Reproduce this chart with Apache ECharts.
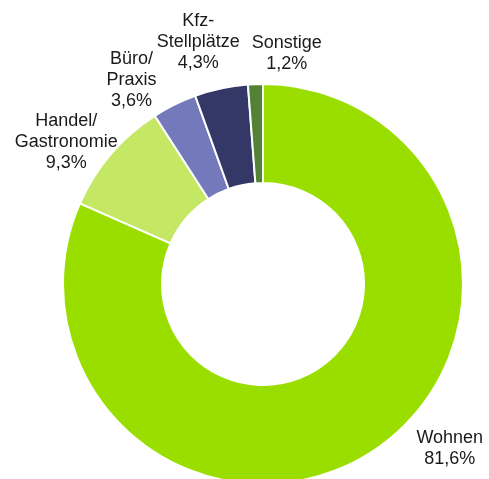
<!DOCTYPE html>
<html>
<head>
<meta charset="utf-8">
<script src="https://cdn.jsdelivr.net/npm/echarts@6/dist/echarts.min.js"></script>
<style>
html,body{margin:0;padding:0;background:#fff;}
#c{width:489px;height:479px;}
</style>
</head>
<body>
<div id="c"></div>
<script>
// Data
const categories = ['Wohnen', 'Handel/\nGastronomie', 'Büro/\nPraxis', 'Kfz-\nStellplätze', 'Sonstige'];
const shares = [81.6, 9.3, 3.6, 4.3, 1.2];

// Styles
const colors = ['#9ade00', '#c4e864', '#7479bb', '#333867', '#548235'];
const labelNudges = [[54, -39], [-12, 16], [-24, 14], [-14, -4], [33, 12]];

const chart = echarts.init(document.getElementById('c'), null, {renderer: 'canvas'});
const data = categories.map((name, i) => ({
  name: name,
  value: shares[i],
  itemStyle: {color: colors[i]},
  label: {offset: labelNudges[i]}
}));

chart.setOption({
  animation: false,
  backgroundColor: '#ffffff',
  series: [{
    type: 'pie',
    center: [263, 284],
    radius: [101, 200],
    startAngle: 90,
    clockwise: true,
    avoidLabelOverlap: false,
    itemStyle: {borderColor: '#ffffff', borderWidth: 2},
    label: {
      show: true,
      position: 'outside',
      fontFamily: '"Liberation Sans", Arial, sans-serif',
      fontSize: 18,
      lineHeight: 21,
      color: '#1a1a1a',
      distanceToLabelLine: 0,
      formatter: function (p) {
        return p.name + '\n' + p.value.toFixed(1).replace('.', ',') + '%';
      }
    },
    labelLine: {show: false, length: 43, length2: 0},
    labelLayout: function () {
      return {align: 'center', verticalAlign: 'middle'};
    },
    emphasis: {disabled: true},
    data: data
  }]
});
</script>
</body>
</html>
